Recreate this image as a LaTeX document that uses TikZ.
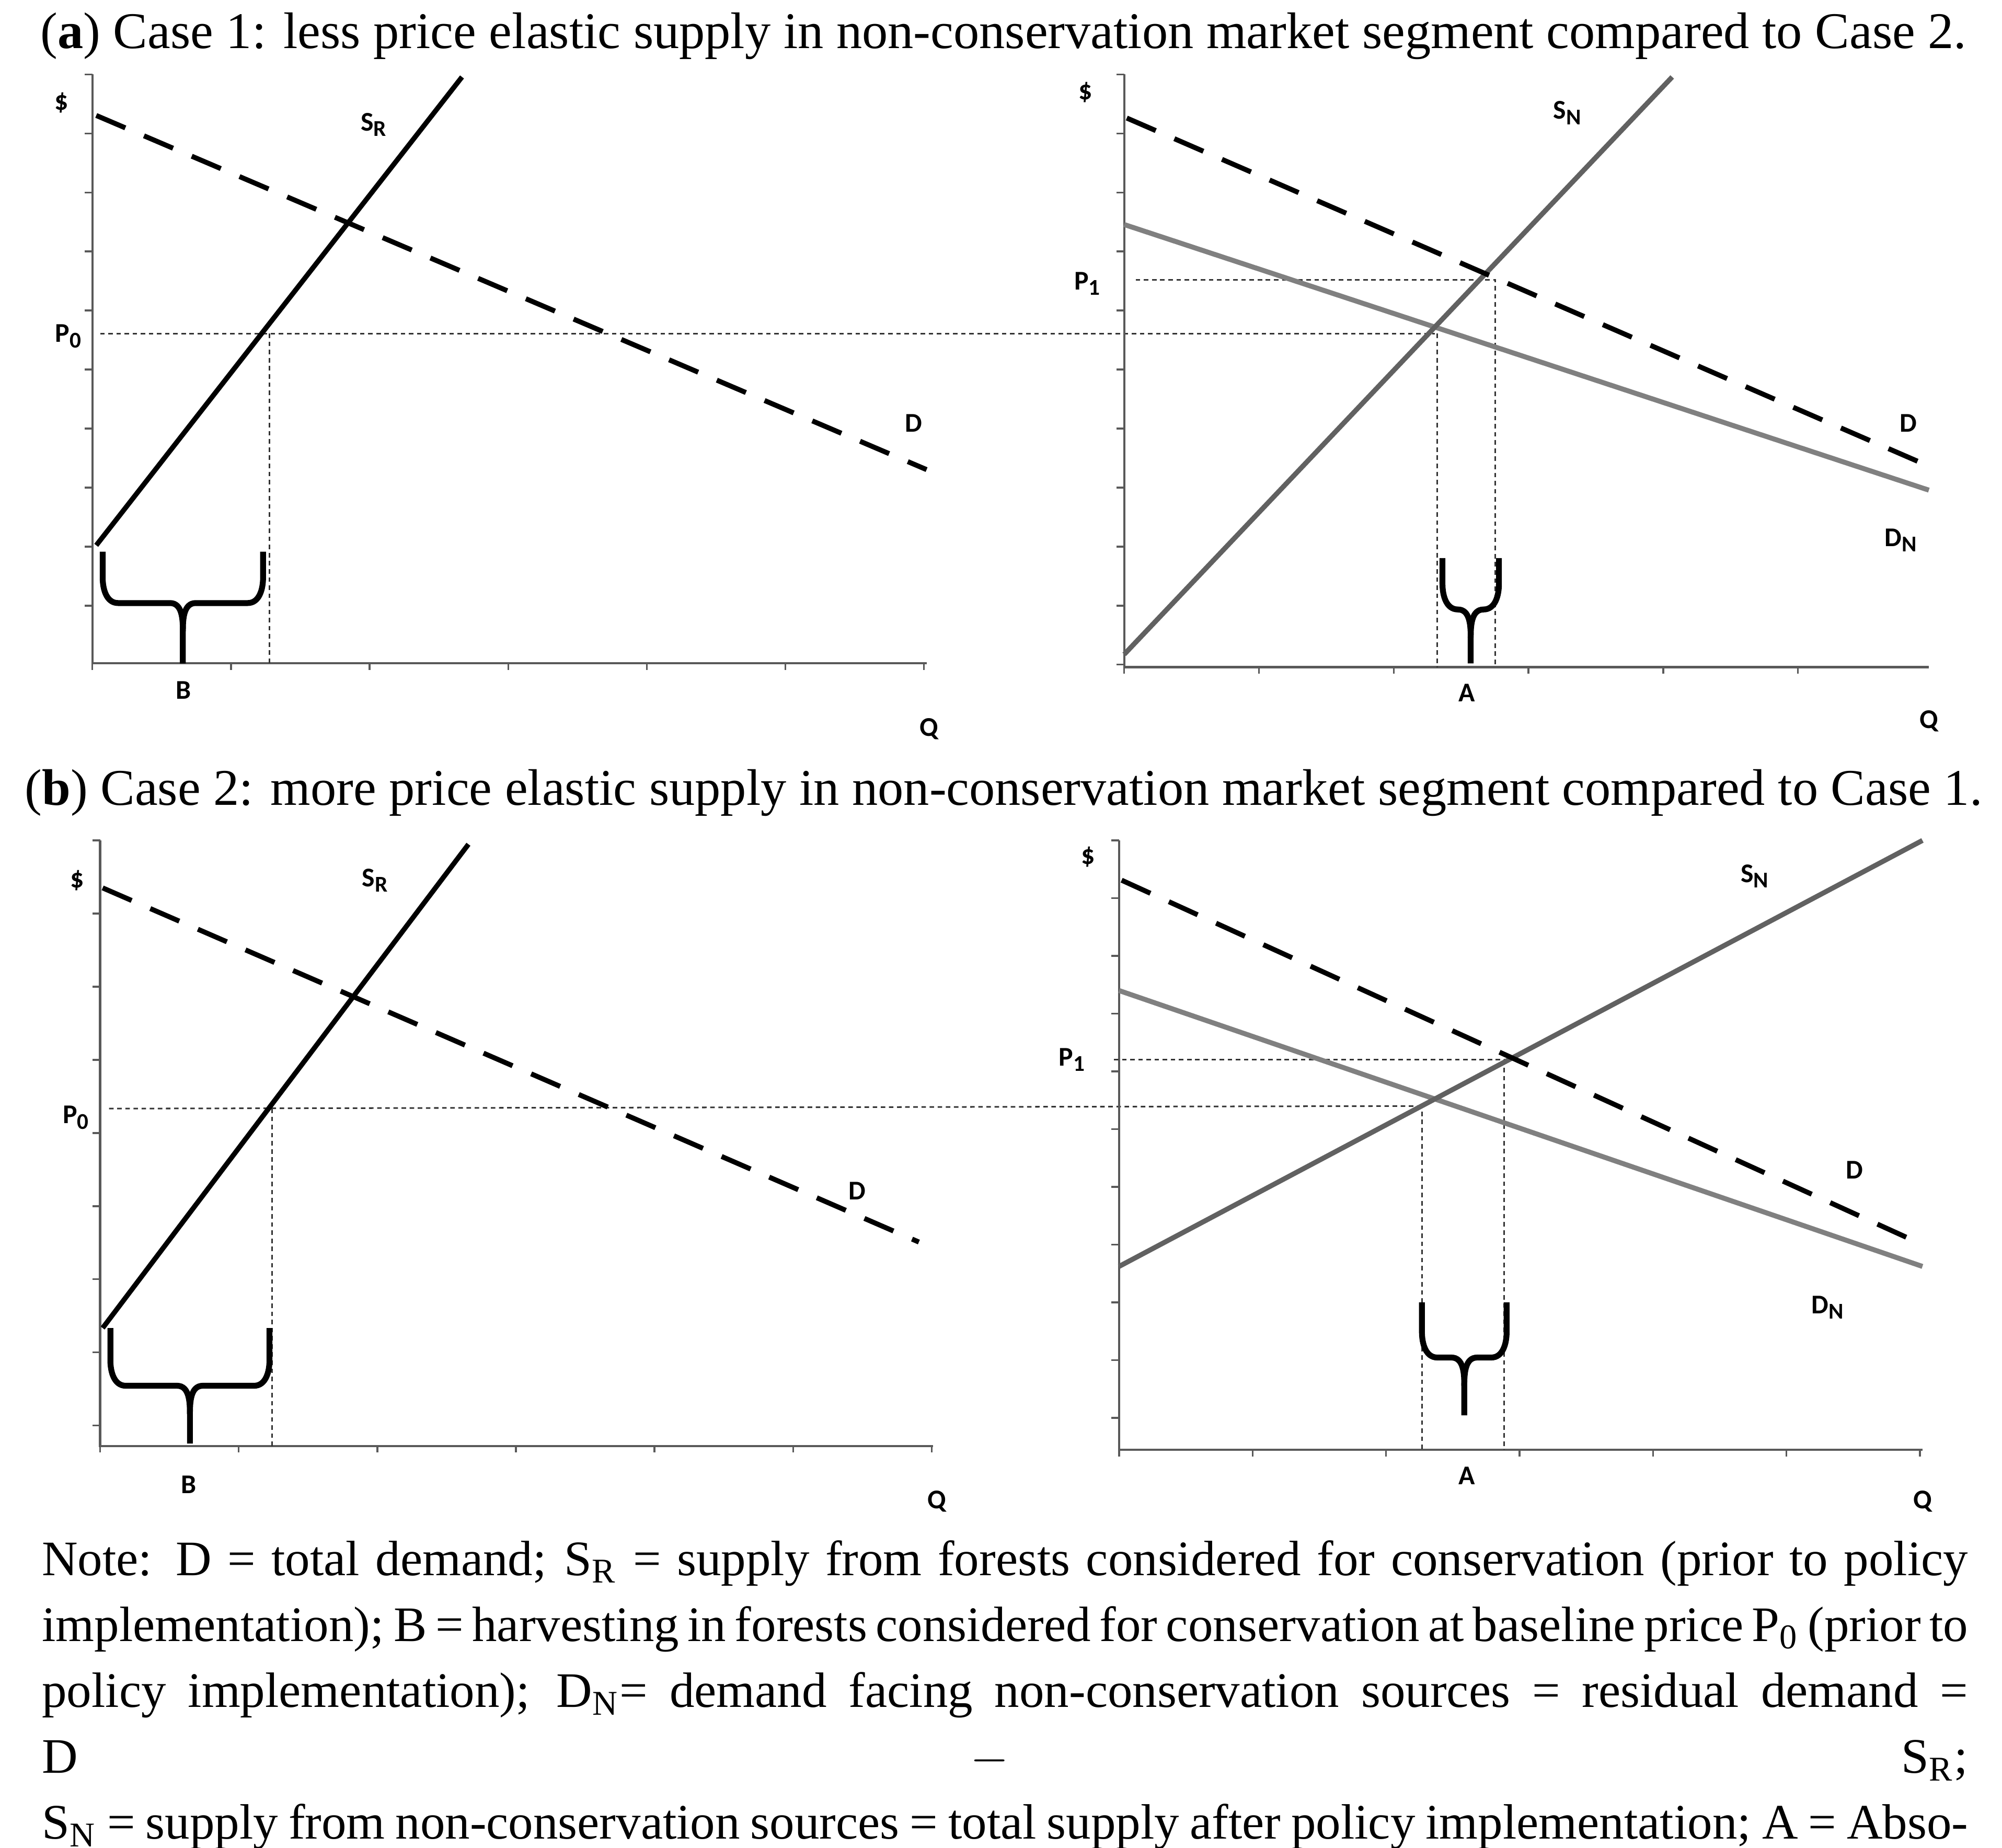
\documentclass[tikz,border=0pt]{standalone}
\usepackage{fontspec}
\setmainfont{Liberation Serif}
\newfontfamily\lblfont{Carlito}
\usetikzlibrary{calc}
\begin{document}
\begin{tikzpicture}[x=0.01cm,y=-0.01cm]
\tikzset{
% curve and axis styles
axis/.style={draw=black!65,line width=0.5pt},
tick/.style={draw=black!65,line width=0.4pt},
supply R/.style={black,line width=1.1pt},
supply N/.style={black!62,line width=1.1pt},
demand/.style={black,line width=1.1pt,dash pattern=on 7pt off 4.5pt},
demand N/.style={black!50,line width=1.1pt},
guide/.style={black!80,line width=0.35pt,dash pattern=on 1pt off 0.8pt},
brace/.style={black,line width=1.3pt},
lbl/.style={font=\lblfont\bfseries\fontsize{6}{7}\selectfont,inner sep=1pt},
title/.style={font=\fontsize{11.4}{14}\selectfont,inner sep=0pt}
}
\useasboundingbox (0,0) rectangle (1560,1440);
% a brace: corner points, tip
\newcommand\brc[5]{% x1, x2, top, mid, bottom
\pgfmathsetmacro\tp{(#1+#2)/2}
\draw[brace] (#1,#3) -- (#1,#4-20) to[out=-90,in=180] (#1+12,#4)
 -- (\tp-10,#4) to[out=0,in=90] (\tp,#4+22) -- (\tp,#5);
\draw[brace] (#2,#3) -- (#2,#4-20) to[out=-90,in=0] (#2-12,#4)
 -- (\tp+10,#4) to[out=180,in=90] (\tp,#4+22);
}
% axes with ticks
\newcommand\axes[6]{% x0,y0,ytop,xend,ystep,xstep
\draw[axis] (#1,#3) -- (#1,#2) -- (#4,#2);
\foreach \yy in {#3,#5,...,#2} \draw[tick] (#1-6,\yy) -- (#1,\yy);
\foreach \xx in {#1,#6,...,#4} \draw[tick] (\xx,#2) -- (\xx,#2+5);
}

% titles
\node[title] (ta) at (782,28) {(\textbf{a}) Case 1: less price elastic supply in non-conservation market segment compared to Case 2.};
\node[title] (tb) at (782,618) {(\textbf{b}) Case 2: more price elastic supply in non-conservation market segment compared to Case 1.};

% ---- panel a, left
\axes{72}{517}{58}{722}{104}{180}
\coordinate (aSR1) at (75,425); \coordinate (aSR2) at (360,60);
\coordinate (aD1) at (75,90); \coordinate (aD2) at (722,366);
\coordinate (aP0) at (78,260); \coordinate (aP0e) at (1118,260);
\coordinate (aB1) at (210,260); \coordinate (aB2) at (210,517);
\draw[guide] (aP0) -- (aP0e);
\draw[guide] (aB1) -- (aB2);
\draw[supply R] (aSR1) -- (aSR2);
\draw[demand] (aD1) -- (aD2);
\brc{80}{205}{430}{470}{517}
\node[lbl] (aDol) at (48,80) {\$};
\node[lbl] (aSRl) at (292,97) {S\textsubscript{R}};
\node[lbl] (aP0l) at (54,262) {P\textsubscript{0}};
\node[lbl] (aDl) at (712,330) {D};
\node[lbl] (aBl) at (143,538) {B};
\node[lbl] (aQl) at (724,568) {Q};

% ---- panel a, right
\axes{876}{520}{58}{1503}{104}{981}
\coordinate (aSN1) at (876,510); \coordinate (aSN2) at (1303,60);
\coordinate (aRD1) at (878,92); \coordinate (aRD2) at (1500,362);
\coordinate (aDN1) at (876,175); \coordinate (aDN2) at (1503,382);
\coordinate (aP1) at (885,218); \coordinate (aP1e) at (1165,218);
\coordinate (aA1) at (1120,260); \coordinate (aA1b) at (1120,520);
\coordinate (aA2b) at (1165,520);
\draw[guide] (aP1) -- (aP1e) -- (aA2b);
\draw[guide] (aA1) -- (aA1b);
\draw[demand N] (aDN1) -- (aDN2);
\draw[supply N] (aSN1) -- (aSN2);
\draw[demand] (aRD1) -- (aRD2);
\brc{1124}{1168}{435}{475}{517}
\node[lbl] (aDolr) at (846,72) {\$};
\node[lbl] (aSNl) at (1222,88) {S\textsubscript{N}};
\node[lbl] (aP1l) at (848,221) {P\textsubscript{1}};
\node[lbl] (aRDl) at (1487,330) {D};
\node[lbl] (aDNl) at (1482,421) {D\textsubscript{N}};
\node[lbl] (aAl) at (1143,540) {A};
\node[lbl] (aQr) at (1503,562) {Q};

% ---- panel b, left
\axes{78}{1127}{655}{727}{712}{186}
\coordinate (bSR1) at (80,1035); \coordinate (bSR2) at (365,658);
\coordinate (bD1) at (80,692); \coordinate (bD2) at (716,968);
\coordinate (bP0) at (85,864); \coordinate (bP0e) at (1105,862);
\coordinate (bB1) at (212,864); \coordinate (bB2) at (212,1127);
\draw[guide] (bP0) -- (bP0e);
\draw[guide] (bB1) -- (bB2);
\draw[supply R] (bSR1) -- (bSR2);
\draw[demand] (bD1) -- (bD2);
\brc{86}{210}{1035}{1080}{1125}
\node[lbl] (bDol) at (60,686) {\$};
\node[lbl] (bSRl) at (293,686) {S\textsubscript{R}};
\node[lbl] (bP0l) at (60,871) {P\textsubscript{0}};
\node[lbl] (bDl) at (668,928) {D};
\node[lbl] (bBl) at (147,1157) {B};
\node[lbl] (bQl) at (730,1170) {Q};

% ---- panel b, right
\axes{872}{1130}{655}{1498}{700}{976}
\coordinate (bSN1) at (872,987); \coordinate (bSN2) at (1498,655);
\coordinate (bRD1) at (874,686); \coordinate (bRD2) at (1498,970);
\coordinate (bDN1) at (872,772); \coordinate (bDN2) at (1498,987);
\coordinate (bP1) at (868,826); \coordinate (bP1e) at (1172,826);
\coordinate (bA1) at (1108,860); \coordinate (bA1b) at (1108,1130);
\coordinate (bA2b) at (1172,1130);
\draw[guide] (bP1) -- (bP1e) -- (bA2b);
\draw[guide] (bA1) -- (bA1b);
\draw[demand N] (bDN1) -- (bDN2);
\draw[supply N] (bSN1) -- (bSN2);
\draw[demand] (bRD1) -- (bRD2);
\brc{1108}{1174}{1015}{1058}{1103}
\node[lbl] (bDolr) at (848,668) {\$};
\node[lbl] (bSNl) at (1368,683) {S\textsubscript{N}};
\node[lbl] (bP1l) at (836,826) {P\textsubscript{1}};
\node[lbl] (bRDl) at (1445,912) {D};
\node[lbl] (bDNl) at (1425,1019) {D\textsubscript{N}};
\node[lbl] (bAl) at (1143,1150) {A};
\node[lbl] (bQr) at (1498,1170) {Q};

% note
\node[anchor=north west,inner sep=0pt,text width=15cm,align=justify,
 font=\fontsize{11.0}{14.6}\selectfont] (note) at (32,1200)
{Note: D = total demand; S\textsubscript{R} = supply from forests considered for conservation (prior to policy\linebreak implementation); B = harvesting in forests considered for conservation at baseline price P\textsubscript{0} (prior to\linebreak policy implementation); D\textsubscript{N}= demand facing non-conservation sources = residual demand = D~$-$~S\textsubscript{R};\linebreak S\textsubscript{N} = supply from non-conservation sources = total supply after policy implementation; A = Absolute\linebreak leakage; A/B= relative leakage.};
\end{tikzpicture}
\end{document}
